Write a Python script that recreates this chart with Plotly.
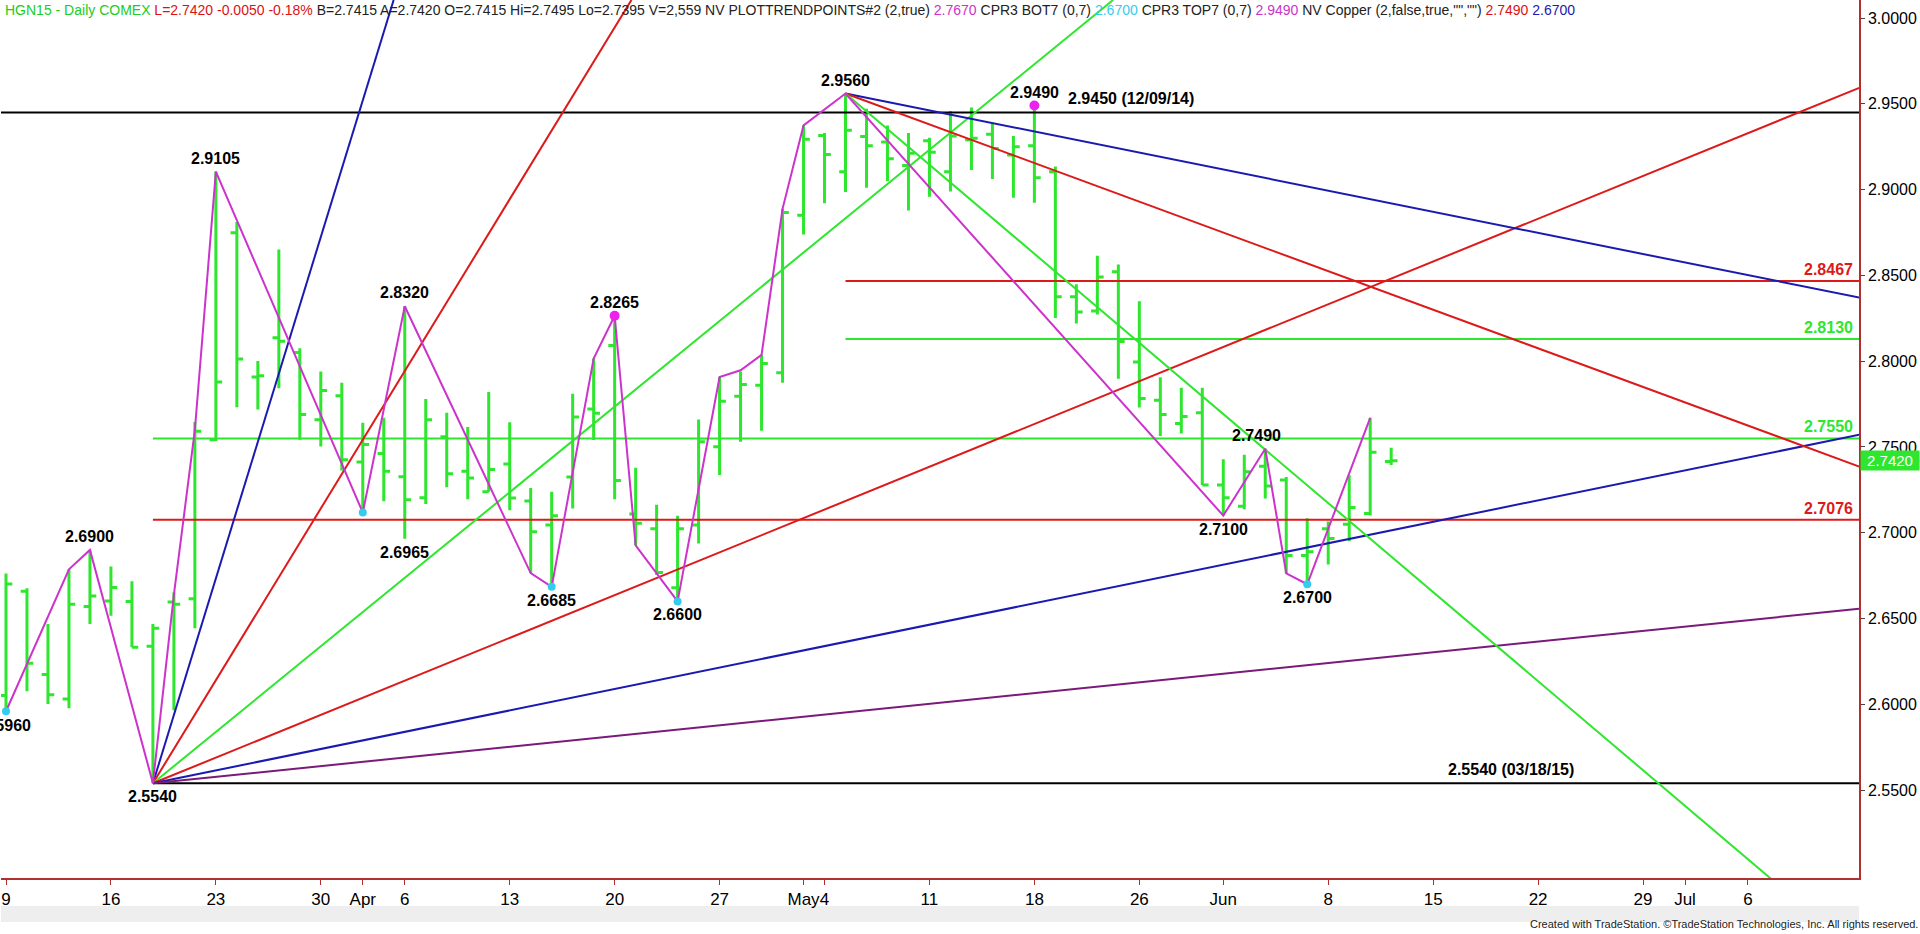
import plotly.graph_objects as go

# ---------- data ----------
bar_idx = list(range(67))
opens = [2.6051,2.6659,2.6174,2.6031,2.6571,2.6603,2.6600,2.6338,2.6596,2.6615,2.7542,2.8749,2.7908,2.8136,2.8050,2.7658,2.7798,2.7412,2.7462,2.7327,2.7204,2.7560,
         2.7358,2.7239,2.7401,2.7185,2.7045,2.7325,2.7722,2.8091,2.7110,2.7024,2.6679,2.7045,2.7502,2.7795,2.7860,2.7933,2.8850,2.9315,2.9104,2.9309,2.9277,2.9141,
         2.9285,2.9104,2.9291,2.9322,2.9202,2.9256,2.9104,2.8376,2.8292,2.8521,2.7995,2.7772,2.7637,2.7699,2.7279,2.7154,2.7387,2.7308,2.6867,2.7023,2.7050,2.7112,2.7415]
highs = [2.6762,2.6677,2.6468,2.6787,2.6900,2.6804,2.6718,2.6468,2.6652,2.7645,2.9105,2.8811,2.8001,2.8651,2.8075,2.7940,2.7874,2.7641,2.7670,2.8320,2.7780,2.7699,
         2.7616,2.7821,2.7644,2.7261,2.7239,2.7810,2.8015,2.8265,2.7379,2.7164,2.7099,2.7660,2.7908,2.7940,2.8037,2.8888,2.9374,2.9330,2.9560,2.9471,2.9374,2.9330,
         2.9302,2.9458,2.9478,2.9385,2.9312,2.9490,2.9135,2.8448,2.8615,2.8563,2.8349,2.7907,2.7845,2.7845,2.7429,2.7454,2.7490,2.7325,2.7085,2.7065,2.7335,2.7670,2.7495]
lows = [2.5960,2.6076,2.6002,2.5977,2.6468,2.6517,2.6333,2.5540,2.5965,2.6444,2.7535,2.7731,2.7719,2.7842,2.7542,2.7503,2.7363,2.7120,2.7184,2.6965,2.7167,2.7265,
        2.7196,2.7239,2.7131,2.6765,2.6685,2.7142,2.7541,2.7196,2.6927,2.6754,2.6600,2.6937,2.7336,2.7530,2.7595,2.7875,2.8738,2.8921,2.8986,2.9011,2.9050,2.8878,
        2.8958,2.8989,2.9114,2.9062,2.8952,2.8923,2.8251,2.8220,2.8272,2.7897,2.7730,2.7564,2.7579,2.7279,2.7100,2.7137,2.7200,2.6763,2.6700,2.6815,2.6950,2.7100,2.7395]
closes = [2.6701,2.6240,2.6056,2.6583,2.6632,2.6681,2.6333,2.6444,2.6583,2.7592,2.7879,2.8013,2.7915,2.8116,2.7690,2.7829,2.7425,2.7515,2.7358,2.7192,2.7658,2.7344,
          2.7319,2.7369,2.7203,2.7006,2.7099,2.7675,2.7696,2.7304,2.7056,2.6769,2.7024,2.7530,2.7767,2.7864,2.7987,2.8867,2.9294,2.9205,2.9346,2.9255,2.9180,2.9212,
          2.9218,2.9312,2.9300,2.9239,2.9250,2.9069,2.8376,2.8286,2.8490,2.8115,2.7782,2.7689,2.7678,2.7279,2.7204,2.7356,2.7273,2.6867,2.6890,2.6967,2.7148,2.7470,2.7420]

tick_idx = [0,5,10,15,17,19,24,29,34,38,39,44,49,54,58,63,68,73,78,80,83]
tick_text = ['9','16','23','30','Apr','6','13','20','27','May','4','11','18','26','Jun','8','15','22','29','Jul','6']
price_ticks = [2.55,2.60,2.65,2.70,2.75,2.80,2.85,2.90,2.95,3.00]

zig_idx = [0,3,4,7,8,9,10,17,19,25,26,28,29,30,32,34,35,36,37,38,40,58,60,61,62,65]
zig_p = [2.5960,2.6787,2.6900,2.5540,2.6640,2.7600,2.9105,2.7118,2.8320,2.6765,2.6685,2.8015,2.8265,2.6927,2.6600,2.7908,2.7947,2.8037,2.8888,2.9374,2.9560,2.7100,2.7490,2.6763,2.6700,2.7670]

cyan_idx = [0,17,26,32,62]; cyan_p = [2.5960,2.7118,2.6685,2.6600,2.6700]
mag_idx = [29,49]; mag_p = [2.8265,2.9490]

fan = [
    (7,2.554,18.47,3.0105,'#1a1ab0'),
    (7,2.554,29.8,3.0105,'#dd1a1a'),
    (7,2.554,52.75,3.0105,'#2ee62e'),
    (7,2.554,88.3,2.9593,'#dd1a1a'),
    (7,2.554,88.3,2.7571,'#1a1ab0'),
    (7,2.554,88.3,2.6557,'#7a1a7a'),
    (40,2.956,88.3,2.8371,'#1a1ab0'),
    (40,2.956,88.3,2.7386,'#dd1a1a'),
    (40,2.956,84.9,2.4900,'#2ee62e'),
]
levels = [(2.9450,-1,'#000000'),(2.5540,7,'#000000'),(2.7550,7,'#2ee62e'),(2.7076,7,'#dd1a1a'),
          (2.8467,40,'#dd1a1a'),(2.8130,40,'#2ee62e')]
level_labels = [(2.8467,'2.8467','#dd1a1a'),(2.8130,'2.8130','#2ee62e'),(2.7550,'2.7550','#2ee62e'),(2.7076,'2.7076','#dd1a1a')]

above = [(10,2.9105,'2.9105'),(4,2.6900,'2.6900'),(19,2.8320,'2.8320'),(29,2.8265,'2.8265'),(40,2.9560,'2.9560'),(49,2.9490,'2.9490'),(59.6,2.7490,'2.7490')]
below = [(7,2.5540,'2.5540'),(19,2.6965,'2.6965'),(26,2.6685,'2.6685'),(32,2.6600,'2.6600'),(58,2.7100,'2.7100'),(62,2.6700,'2.6700')]

XR = [-0.238, 88.29]
YR = [2.4988, 3.0105]
GREEN = '#2ee62e'
FONT = 'Liberation Sans, Arial'

fig = go.Figure()
for p, s, c in levels:
    fig.add_trace(go.Scatter(x=[s, 90], y=[p, p], mode='lines', line=dict(color=c, width=2), hoverinfo='skip'))
for x0, y0, x1, y1, c in fan:
    fig.add_trace(go.Scatter(x=[x0, x1], y=[y0, y1], mode='lines', line=dict(color=c, width=2), hoverinfo='skip'))
fig.add_trace(go.Ohlc(x=bar_idx, open=opens, high=highs, low=lows, close=closes, tickwidth=0.3,
                      increasing=dict(line=dict(color=GREEN, width=3)),
                      decreasing=dict(line=dict(color=GREEN, width=3))))
fig.add_trace(go.Scatter(x=zig_idx, y=zig_p, mode='lines', line=dict(color='#cc33cc', width=2), hoverinfo='skip'))
fig.add_trace(go.Scatter(x=cyan_idx, y=cyan_p, mode='markers', marker=dict(color='#33ccee', size=8), hoverinfo='skip'))
fig.add_trace(go.Scatter(x=mag_idx, y=mag_p, mode='markers', marker=dict(color='#ee22ee', size=10), hoverinfo='skip'))

lab = dict(family=FONT, size=16, color='black')
for x, y, t in above:
    fig.add_annotation(x=x, y=y, text='<b>%s</b>' % t, showarrow=False, yanchor='bottom', yshift=3, font=lab)
for x, y, t in below:
    fig.add_annotation(x=x, y=y, text='<b>%s</b>' % t, showarrow=False, yanchor='top', yshift=-3, font=lab)
fig.add_annotation(x=1.3, y=2.5960, text='<b>2.5960</b>', showarrow=False, xanchor='right', yanchor='top', yshift=-4, font=lab)
fig.add_annotation(x=50.5, y=2.9450, text='<b>2.9450 (12/09/14)</b>', showarrow=False, xanchor='left', yanchor='bottom', yshift=3, font=lab)
fig.add_annotation(x=68.6, y=2.5540, text='<b>2.5540 (03/18/15)</b>', showarrow=False, xanchor='left', yanchor='bottom', yshift=3, font=lab)
for p, t, c in level_labels:
    fig.add_annotation(x=88.1, y=p, text='<b>%s</b>' % t, showarrow=False, xanchor='right', yanchor='bottom', yshift=1,
                       font=dict(family=FONT, size=16, color=c))
fig.add_annotation(xref='paper', x=1.0, xanchor='left', y=closes[-1], text='2.7420', showarrow=False, bgcolor=GREEN,
                   font=dict(family=FONT, size=15, color='white'), xshift=1, borderpad=1, width=56)

hdr = ('<span style="color:#22cc22">HGN15 - Daily COMEX</span> '
       '<span style="color:#dd1111">L=2.7420 -0.0050 -0.18%</span> '
       '<span style="color:#222">B=2.7415 A=2.7420 O=2.7415 Hi=2.7495 Lo=2.7395 V=2,559 NV PLOTTRENDPOINTS#2 (2,true)</span> '
       '<span style="color:#cc33cc">2.7670</span> <span style="color:#222">CPR3 BOT7 (0,7)</span> '
       '<span style="color:#33ccee">2.6700</span> <span style="color:#222">CPR3 TOP7 (0,7)</span> '
       '<span style="color:#cc33cc">2.9490</span> <span style="color:#222">NV Copper (2,false,true,"","")</span> '
       '<span style="color:#dd1111">2.7490</span> <span style="color:#1a1ab0">2.6700</span>')
fig.add_annotation(xref='paper', yref='paper', x=0.001, y=1.0, xanchor='left', yanchor='top', text=hdr, showarrow=False,
                   font=dict(family=FONT, size=14))
fig.add_annotation(xref='paper', yref='paper', x=1.033, y=-0.0615, xanchor='right', yanchor='bottom', showarrow=False,
                   text='Created with TradeStation. ©TradeStation Technologies, Inc. All rights reserved.',
                   font=dict(family=FONT, size=11, color='#222'))
fig.add_shape(type='rect', xref='paper', yref='paper', x0=0, x1=1.0, y0=-0.05, y1=-0.032, fillcolor='#eeeeee',
              line=dict(width=0), layer='below')

fig.update_layout(
    width=1920, height=934, showlegend=False, plot_bgcolor='white', paper_bgcolor='white',
    margin=dict(l=1, r=61, t=0, b=56),
    xaxis=dict(range=XR, tickvals=tick_idx, ticktext=tick_text, showgrid=False, zeroline=False, tickangle=0,
               showline=True, linecolor='#b03030', linewidth=1.5, ticks='outside', ticklen=5, tickcolor='#b03030',
               rangeslider=dict(visible=False), tickfont=dict(family=FONT, size=17, color='black')),
    yaxis=dict(range=YR, side='right', tickvals=price_ticks, ticktext=['%.4f' % v for v in price_ticks], showgrid=False,
               zeroline=False, showline=True, linecolor='#b03030', linewidth=1.5, ticks='outside', ticklen=4, tickcolor='#444',
               tickfont=dict(family=FONT, size=16, color='black')),
)
fig.write_html('out.html', config={'displayModeBar': False})
with open('out.html', encoding='utf-8') as f:
    html = f.read()
html = html.replace('<head>', '<head><style>html,body{margin:0;padding:0;overflow:hidden}</style>', 1)
with open('out.html', 'w', encoding='utf-8') as f:
    f.write(html)
